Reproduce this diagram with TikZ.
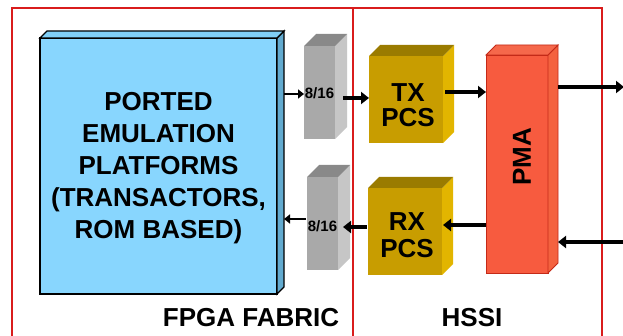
\documentclass[tikz,border=0pt]{standalone}
\usepackage{fontspec}
\setmainfont{Liberation Sans}
\usetikzlibrary{arrows.meta,calc}

\definecolor{frameRed}{HTML}{D91C1C}
\definecolor{blueFront}{HTML}{88D6FE}
\definecolor{blueSide}{HTML}{62AACF}
\definecolor{blueTop}{HTML}{80CFF6}
\definecolor{grayFront}{HTML}{A9A9A9}
\definecolor{graySide}{HTML}{C6C6C6}
\definecolor{grayTop}{HTML}{898989}
\definecolor{goldFront}{HTML}{C89D00}
\definecolor{goldSide}{HTML}{E2B500}
\definecolor{goldTop}{HTML}{9A7B00}
\definecolor{pmaFront}{HTML}{F75B3F}
\definecolor{pmaSide}{HTML}{F4623F}
\definecolor{pmaTop}{HTML}{F5684B}
\definecolor{pmaEdge}{HTML}{C42A18}

% A box drawn as a front face plus top and right faces receding by #6
% #1 name, #2 #3 top-left corner, #4 width, #5 height, #6 depth,
% #7 front style, #8 side style, #9 top style
\newcommand{\prism}[9]{%
  \node[#7, inner sep=0pt, outer sep=0pt, minimum width=#4pt, minimum height=#5pt,
        anchor=north west] (#1) at (#2,#3) {};
  \path[#8] (#1.north east) -- ++(#6,-#6) -- ([shift={(#6,-#6)}]#1.south east)
     -- (#1.south east) -- cycle;
  \path[#9] (#1.north west) -- ++(#6,-#6) -- ([shift={(#6,-#6)}]#1.north east)
     -- (#1.north east) -- cycle;
  \coordinate (#1 back) at ([shift={(#6,0)}]#1.east);
}

\tikzset{
  frame/.style={draw=frameRed, line width=1.1pt},
  bigtext/.style={font=\fontsize{26}{32}\selectfont\bfseries, align=center, inner sep=0pt},
  smalltext/.style={font=\fontsize{15}{18}\selectfont\bfseries, inner sep=0pt},
  thinarrow/.style={line width=2.4pt, -{Triangle[length=6pt,width=9pt]}},
  thickarrow/.style={line width=3.6pt, -{Triangle[length=8pt,width=12pt]}},
}

\begin{document}
\begin{tikzpicture}[x=1pt, y=-1pt]
\useasboundingbox (0,0) rectangle (623,336);
\fill[white] (0,0) rectangle (623,336);

% region frame and divider
\draw[frame] (12,340) -- (12,8) -- (602,8) -- (602,340);
\draw[frame] (353,8) -- (353,340);

% emulation platform block
\prism{blue}{40}{38}{237}{256}{7}
  {draw=black, line width=1.3pt, fill=blueFront}
  {draw=black, line width=1.3pt, fill=blueSide}
  {draw=black, line width=1.3pt, fill=blueTop}
\node[bigtext] (bluetext) at ([yshift=-2.5pt]blue.center)
  {PORTED\\EMULATION\\PLATFORMS\\(TRANSACTORS,\\ROM BASED)};

% width converters
\prism{gu}{304}{46}{31}{93}{12}{fill=grayFront}{fill=graySide}{fill=grayTop}
\prism{gl}{307}{177}{31}{93}{12}{fill=grayFront}{fill=graySide}{fill=grayTop}
\node[smalltext] (gutext) at ([yshift=-0.5pt]gu.center) {8/16};
\node[smalltext] (gltext) at ([yshift=-2.5pt]gl.center) {8/16};

% PCS blocks
\prism{tx}{369}{56}{74}{87}{11}{fill=goldFront}{fill=goldSide}{fill=goldTop}
\prism{rx}{368}{188}{74}{87}{11}{fill=goldFront}{fill=goldSide}{fill=goldTop}
\node[bigtext, font=\fontsize{26}{25}\selectfont\bfseries] (txtext)
  at ([xshift=2pt,yshift=-5.5pt]tx.center) {TX\\PCS};
\node[bigtext, font=\fontsize{26}{27}\selectfont\bfseries] (rxtext)
  at ([xshift=2pt,yshift=-4pt]rx.center) {RX\\PCS};

% PMA block
\prism{pma}{486}{55}{62}{218}{10}
  {draw=pmaEdge, line width=0.8pt, fill=pmaFront}
  {draw=pmaEdge, line width=0.8pt, fill=pmaSide}
  {draw=pmaEdge, line width=0.8pt, fill=pmaTop}
\node[bigtext, rotate=90] (pmatext) at ([xshift=5pt,yshift=7pt]pma.center) {PMA};

% serial line ends
\coordinate (serout) at (624,87);
\coordinate (serin) at (623,242);

% transmit path
\draw[thinarrow] (blue back |- 0,94) -- (gu.west |- 0,94);
\draw[thickarrow] ($(gu.east |- 0,98)+(8,0)$) -- (tx.west |- 0,98);
\draw[thickarrow] ($(tx.east |- 0,92)+(2,0)$) -- (pma.west |- 0,92);
\draw[thickarrow] (pma back |- serout) -- (serout);

% receive path
\draw[thickarrow] (serin) -- (pma back |- serin);
\draw[thickarrow] (pma.west |- 0,225) -- ($(rx.east |- 0,225)+(1,0)$);
\draw[thickarrow] ($(rx.west |- 0,227)+(-1,0)$) -- ($(gl.east |- 0,227)+(5,0)$);
\draw[thinarrow] ($(gl.west |- 0,219)+(-1,0)$) -- (blue back |- 0,219);

% region labels
\node[bigtext] (fpga) at (251,318) {FPGA FABRIC};
\node[bigtext] (hssi) at (472,318) {HSSI};
\end{tikzpicture}
\end{document}
